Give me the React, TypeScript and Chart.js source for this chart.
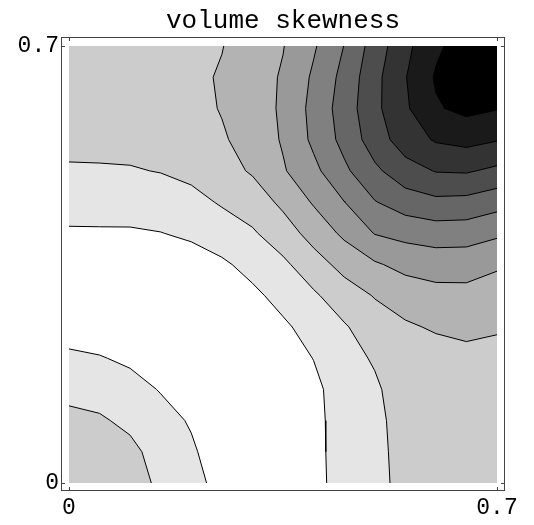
import React, { useEffect, useRef } from 'react';
import { Chart, registerables } from 'chart.js';

Chart.register(...registerables);

// Sample positions of the surface grid (both axes run 0 .. 0.7 in steps of 0.05)
const GRID_X = [0, 0.05, 0.1, 0.15, 0.2, 0.25, 0.3, 0.35, 0.4, 0.45, 0.5, 0.55, 0.6, 0.65, 0.7];
const GRID_Y = [0, 0.05, 0.1, 0.15, 0.2, 0.25, 0.3, 0.35, 0.4, 0.45, 0.5, 0.55, 0.6, 0.65, 0.7];

// Surface values, one row per GRID_Y entry (bottom row first), one column per GRID_X entry
const Z_ROWS = [
  [2.75, 2.6, 2.45, 1.8, 1.25, 0.75, 0.4, 0.5, 0.7, 1.4, 1.7, 2.3, 2.35, 2.45, 2.55],
  [2.6, 2.45, 2.25, 1.6, 1.12, 0.55, 0.3, 0.45, 0.72, 1.42, 1.74, 2.32, 2.38, 2.5, 2.58],
  [2.26, 2.12, 1.78, 1.3, 0.92, 0.35, 0.2, 0.4, 0.72, 1.45, 1.75, 2.4, 2.42, 2.55, 2.62],
  [1.71, 1.6, 1.31, 0.95, 0.55, 0.2, 0.15, 0.45, 0.76, 1.5, 1.85, 2.5, 2.5, 2.65, 2.7],
  [1.16, 1.05, 0.85, 0.55, 0.3, 0.15, 0.2, 0.55, 1.02, 1.65, 2.1, 2.65, 2.63, 2.74, 2.85],
  [0.62, 0.55, 0.45, 0.3, 0.2, 0.2, 0.4, 0.85, 1.35, 1.9, 2.55, 2.88, 3.1, 3.23, 3.05],
  [0.45, 0.4, 0.3, 0.2, 0.2, 0.4, 0.8, 1.3, 1.85, 2.55, 3.05, 3.42, 3.68, 3.71, 3.56],
  [0.45, 0.43, 0.38, 0.45, 0.6, 0.85, 1.3, 1.8, 2.6, 3.3, 3.88, 4.3, 4.43, 4.41, 4.12],
  [0.89, 0.9, 0.9, 0.98, 1.15, 1.5, 1.88, 2.55, 3.35, 4.2, 5.04, 5.3, 5.49, 5.46, 5.17],
  [1.38, 1.38, 1.4, 1.45, 1.7, 2.1, 2.5, 3.2, 4.1, 4.98, 5.95, 6.51, 6.77, 6.71, 6.38],
  [1.88, 1.9, 1.93, 2.04, 2.25, 2.65, 3.1, 3.9, 4.75, 5.8, 6.8, 7.6, 8.05, 8.1, 7.79],
  [2.3, 2.3, 2.32, 2.38, 2.6, 2.9, 3.35, 4.1, 5.2, 6.3, 7.5, 8.5, 9.1, 9.3, 9.06],
  [2.45, 2.45, 2.47, 2.5, 2.72, 3.05, 3.5, 4.15, 5.3, 6.45, 7.75, 8.85, 9.9, 10.25, 10.05],
  [2.55, 2.53, 2.55, 2.6, 2.8, 3.08, 3.55, 4.1, 5.15, 6.3, 7.7, 8.95, 10.1, 10.7, 10.6],
  [2.6, 2.6, 2.62, 2.68, 2.82, 2.97, 3.45, 3.96, 4.88, 6.02, 7.45, 8.73, 9.82, 10.5, 10.8],
];

// Contour levels and the gray used for each band (band k lies between LEVELS[k-1] and LEVELS[k])
const LEVELS = [1, 2, 3, 4, 5, 6, 7, 8, 9, 10];
const BAND_GRAYS = [
  '#ffffff', '#e5e5e5', '#cccccc', '#b3b3b3', '#999999', '#808080',
  '#666666', '#4d4d4d', '#333333', '#1a1a1a', '#000000',
];

const TITLE = 'volume skewness';
const X_TICKS = [0, 0.7];
const X_TICK_LABELS = ['0', '0.7'];
const Y_TICKS = [0, 0.7];
const Y_TICK_LABELS = ['0', '0.7'];

const FONT_FAMILY = '"Liberation Mono", "Courier New", monospace';

type Pt = { x: number; y: number };
type Corner = Pt & { z: number };

function cellCorners(i: number, j: number): Corner[] {
  return [
    { x: GRID_X[i], y: GRID_Y[j], z: Z_ROWS[j][i] },
    { x: GRID_X[i + 1], y: GRID_Y[j], z: Z_ROWS[j][i + 1] },
    { x: GRID_X[i + 1], y: GRID_Y[j + 1], z: Z_ROWS[j + 1][i + 1] },
    { x: GRID_X[i], y: GRID_Y[j + 1], z: Z_ROWS[j + 1][i] },
  ];
}

// Linear crossing point on a cell edge, computed in a fixed corner order so that
// neighbouring cells produce bit-identical points.
function crossing(a: Corner, b: Corner, c: number): Pt {
  const [p, q] = a.x < b.x || (a.x === b.x && a.y < b.y) ? [a, b] : [b, a];
  const t = (c - p.z) / (q.z - p.z);
  return { x: p.x + t * (q.x - p.x), y: p.y + t * (q.y - p.y) };
}

// Part of a cell where z >= c
function superLevelPolygon(corners: Corner[], c: number): Pt[] {
  const out: Pt[] = [];
  for (let k = 0; k < 4; k++) {
    const a = corners[k];
    const b = corners[(k + 1) % 4];
    const ain = a.z >= c;
    const bin = b.z >= c;
    if (ain) out.push({ x: a.x, y: a.y });
    if (ain !== bin) out.push(crossing(a, b, c));
  }
  return out;
}

// Iso-line pieces of a cell at level c
function cellSegments(corners: Corner[], c: number): [Pt, Pt][] {
  const pts: { p: Pt; exiting: boolean }[] = [];
  for (let k = 0; k < 4; k++) {
    const a = corners[k];
    const b = corners[(k + 1) % 4];
    const ain = a.z >= c;
    const bin = b.z >= c;
    if (ain !== bin) pts.push({ p: crossing(a, b, c), exiting: ain });
  }
  const segs: [Pt, Pt][] = [];
  for (let k = 0; k < pts.length; k++) {
    if (pts[k].exiting) segs.push([pts[k].p, pts[(k + 1) % pts.length].p]);
  }
  return segs;
}

const keyOf = (p: Pt) => p.x.toFixed(9) + ',' + p.y.toFixed(9);

// Join the cell pieces into continuous polylines
function chainSegments(segs: [Pt, Pt][]): Pt[][] {
  const ends = new Map<string, number[]>();
  segs.forEach((s, i) => {
    for (const p of s) {
      const k = keyOf(p);
      if (!ends.has(k)) ends.set(k, []);
      ends.get(k)!.push(i);
    }
  });
  const used = new Array(segs.length).fill(false);
  const extend = (line: Pt[], start: Pt) => {
    let cur = start;
    for (;;) {
      const cand = (ends.get(keyOf(cur)) || []).find((i) => !used[i]);
      if (cand === undefined) break;
      used[cand] = true;
      const s = segs[cand];
      const nxt = keyOf(s[0]) === keyOf(cur) ? s[1] : s[0];
      line.push(nxt);
      cur = nxt;
    }
  };
  const lines: Pt[][] = [];
  segs.forEach((s, i) => {
    if (used[i]) return;
    used[i] = true;
    const fwd = [s[0], s[1]];
    extend(fwd, s[1]);
    const back = [s[0]];
    extend(back, s[0]);
    lines.push(back.slice(1).reverse().concat(fwd));
  });
  return lines;
}

function contourData(c: number): Pt[] {
  const segs: [Pt, Pt][] = [];
  for (let j = 0; j < GRID_Y.length - 1; j++) {
    for (let i = 0; i < GRID_X.length - 1; i++) {
      segs.push(...cellSegments(cellCorners(i, j), c));
    }
  }
  const data: Pt[] = [];
  chainSegments(segs).forEach((line, idx) => {
    if (idx > 0) data.push({ x: NaN, y: NaN });
    data.push(...line);
  });
  return data;
}

// Shaded bands under the iso-lines
const bandFill = {
  id: 'bandFill',
  beforeDatasetsDraw(chart: any) {
    const { ctx } = chart;
    const xs = chart.scales.x;
    const ys = chart.scales.y;
    const thresholds = [-Infinity, ...LEVELS];
    ctx.save();
    thresholds.forEach((c, k) => {
      ctx.beginPath();
      for (let j = 0; j < GRID_Y.length - 1; j++) {
        for (let i = 0; i < GRID_X.length - 1; i++) {
          const poly = superLevelPolygon(cellCorners(i, j), c);
          if (poly.length < 3) continue;
          poly.forEach((p, n) => {
            const px = xs.getPixelForValue(p.x);
            const py = ys.getPixelForValue(p.y);
            if (n === 0) ctx.moveTo(px, py);
            else ctx.lineTo(px, py);
          });
          ctx.closePath();
        }
      }
      ctx.fillStyle = BAND_GRAYS[k];
      ctx.fill('nonzero');
    });
    ctx.restore();
  },
};

// Frame with inward tick marks on all four sides, plus the plot label centred over the frame
const frame = {
  id: 'frame',
  afterDraw(chart: any) {
    const { ctx, chartArea } = chart;
    const { left, right, top, bottom } = chartArea;
    const xs = chart.scales.x;
    const ys = chart.scales.y;
    const len = 4;
    ctx.save();
    ctx.strokeStyle = '#444444';
    ctx.lineWidth = 1;
    ctx.strokeRect(Math.round(left) + 0.5, Math.round(top) + 0.5, Math.round(right - left) - 1, Math.round(bottom - top) - 1);
    ctx.beginPath();
    X_TICKS.forEach((v) => {
      const px = Math.round(xs.getPixelForValue(v)) + 0.5;
      ctx.moveTo(px, bottom);
      ctx.lineTo(px, bottom - len);
      ctx.moveTo(px, top);
      ctx.lineTo(px, top + len);
    });
    Y_TICKS.forEach((v) => {
      const py = Math.round(ys.getPixelForValue(v)) + 0.5;
      ctx.moveTo(left, py);
      ctx.lineTo(left + len, py);
      ctx.moveTo(right, py);
      ctx.lineTo(right - len, py);
    });
    ctx.stroke();

    ctx.fillStyle = '#000000';
    ctx.font = '26px ' + FONT_FAMILY;
    ctx.textAlign = 'center';
    ctx.textBaseline = 'alphabetic';
    ctx.fillText(TITLE, (xs.getPixelForValue(0) + xs.getPixelForValue(0.7)) / 2, top - 9);
    ctx.restore();
  },
};

export default function App() {
  const canvasRef = useRef<HTMLCanvasElement | null>(null);

  useEffect(() => {
    const canvas = canvasRef.current;
    if (!canvas) return;

    const datasets = LEVELS.map((c) => ({
      label: 'z = ' + c,
      data: contourData(c),
      showLine: true,
      borderColor: '#000000',
      borderWidth: 1,
      pointRadius: 0,
      pointHoverRadius: 0,
      fill: false,
      spanGaps: false,
    }));

    const tickFont = { family: FONT_FAMILY, size: 23 };

    const chart = new Chart(canvas, {
      type: 'scatter',
      data: { datasets },
      plugins: [bandFill, frame],
      options: {
        animation: false,
        responsive: false,
        devicePixelRatio: 1,
        events: [],
        layout: { padding: { left: 0, right: 29, top: 37, bottom: 0 } },
        plugins: {
          legend: { display: false },
          tooltip: { enabled: false },
          title: { display: false },
        },
        scales: {
          x: {
            type: 'linear',
            min: -0.0131,
            max: 0.7131,
            grid: { display: false, drawTicks: false },
            border: { display: false },
            afterBuildTicks: (axis: any) => {
              axis.ticks = X_TICKS.map((value) => ({ value }));
            },
            afterFit: (axis: any) => {
              axis.height = 34;
            },
            ticks: {
              autoSkip: false,
              maxRotation: 0,
              padding: 3,
              color: '#000000',
              font: tickFont,
              callback: (_v: any, i: number) => X_TICK_LABELS[i],
            },
          },
          y: {
            type: 'linear',
            min: -0.0128,
            max: 0.7144,
            grid: { display: false, drawTicks: false },
            border: { display: false },
            afterBuildTicks: (axis: any) => {
              axis.ticks = Y_TICKS.map((value) => ({ value }));
            },
            afterFit: (axis: any) => {
              axis.width = 61;
            },
            ticks: {
              autoSkip: false,
              padding: 2,
              color: '#000000',
              font: tickFont,
              callback: (_v: any, i: number) => Y_TICK_LABELS[i],
            },
          },
        },
      } as any,
    });

    return () => chart.destroy();
  }, []);

  return (
    <div style={{ position: 'fixed', left: 0, top: 0, width: 534, height: 525, background: '#ffffff' }}>
      <canvas ref={canvasRef} width={534} height={525} style={{ display: 'block', width: 534, height: 525 }} />
    </div>
  );
}
